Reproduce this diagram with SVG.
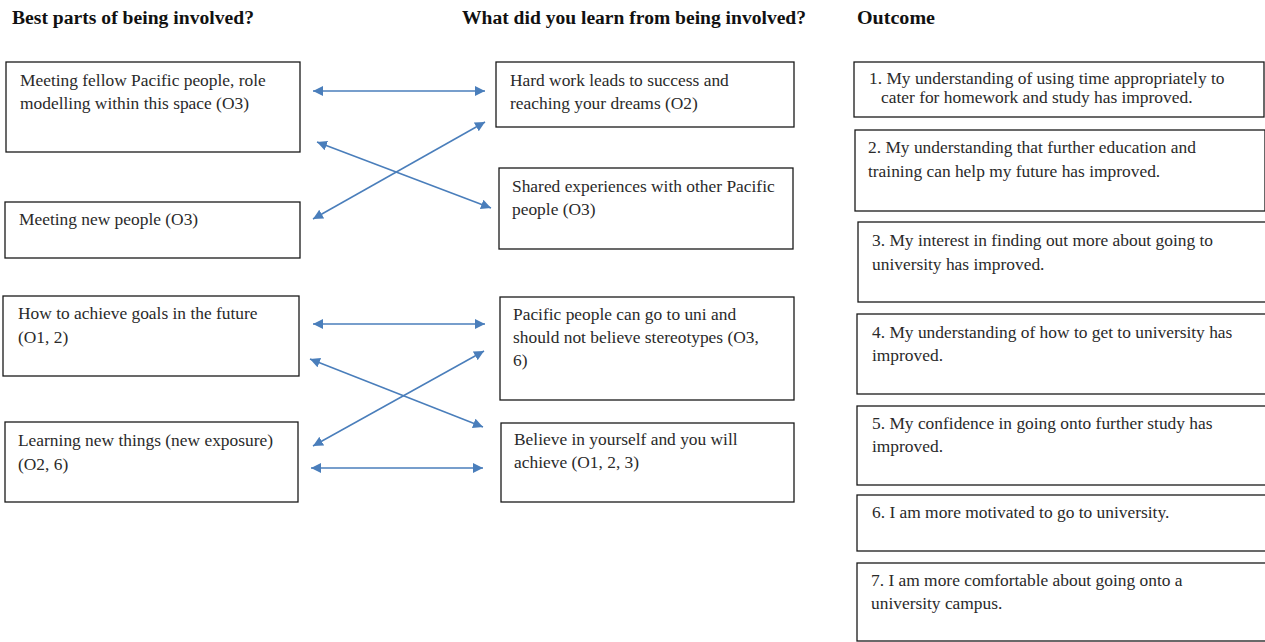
<svg xmlns="http://www.w3.org/2000/svg" width="1265" height="642" viewBox="0 0 1265 642">
<defs>
<marker id="ah" viewBox="0 0 10 10" refX="10" refY="5" markerWidth="10" markerHeight="10" markerUnits="userSpaceOnUse" orient="auto-start-reverse">
<path d="M0,0 L10,5 L0,10 z" fill="#4A7EBB"/>
</marker>
<style>
.box{fill:#fff;stroke:#1a1a1a;stroke-width:1.3}
.t{font-family:"Liberation Serif","Times New Roman",serif;font-size:17.4px;fill:#2a2a2a}
.h{font-family:"Liberation Serif","Times New Roman",serif;font-size:18px;font-weight:bold;fill:#111}
.c{stroke:#4A7EBB;stroke-width:1.5;fill:none;marker-start:url(#ah);marker-end:url(#ah)}
</style>
</defs>
<rect width="1265" height="642" fill="#fff"/>
<g id="headings">
<text class="h" x="12" y="24" textLength="242" lengthAdjust="spacingAndGlyphs">Best parts of being involved?</text>
<text class="h" x="462" y="24" textLength="344" lengthAdjust="spacingAndGlyphs">What did you learn from being involved?</text>
<text class="h" x="857" y="24" textLength="78" lengthAdjust="spacingAndGlyphs">Outcome</text>
</g>
<g id="connectors">
<line class="c" x1="313" y1="91" x2="485" y2="91"/>
<line class="c" x1="317" y1="142" x2="491" y2="208"/>
<line class="c" x1="313" y1="219" x2="485" y2="122"/>
<line class="c" x1="313" y1="324" x2="485" y2="324"/>
<line class="c" x1="310" y1="359" x2="483" y2="427"/>
<line class="c" x1="313" y1="446" x2="484" y2="351"/>
<line class="c" x1="311" y1="468" x2="483" y2="468"/>
</g>
<g id="nodeA"><rect class="box" x="6" y="62" width="294" height="90"/>
<text class="t" x="20" y="86">Meeting fellow Pacific people, role</text>
<text class="t" x="20" y="109">modelling within this space (O3)</text></g>
<g id="nodeB"><rect class="box" x="5" y="202" width="295" height="56"/>
<text class="t" x="19" y="225">Meeting new people (O3)</text></g>
<g id="nodeC"><rect class="box" x="3" y="296" width="296" height="80"/>
<text class="t" x="18" y="319">How to achieve goals in the future</text>
<text class="t" x="18" y="343">(O1, 2)</text></g>
<g id="nodeD"><rect class="box" x="5" y="422" width="293" height="80"/>
<text class="t" x="18" y="446">Learning new things (new exposure)</text>
<text class="t" x="18" y="470">(O2, 6)</text></g>
<g id="nodeE"><rect class="box" x="496" y="62" width="298" height="65"/>
<text class="t" x="510" y="86">Hard work leads to success and</text>
<text class="t" x="510" y="109">reaching your dreams (O2)</text></g>
<g id="nodeF"><rect class="box" x="499" y="168" width="294" height="81"/>
<text class="t" x="512" y="192">Shared experiences with other Pacific</text>
<text class="t" x="512" y="215">people (O3)</text></g>
<g id="nodeG"><rect class="box" x="500" y="297" width="294" height="103"/>
<text class="t" x="513" y="320">Pacific people can go to uni and</text>
<text class="t" x="513" y="343">should not believe stereotypes (O3,</text>
<text class="t" x="513" y="366">6)</text></g>
<g id="nodeH"><rect class="box" x="501" y="423" width="293" height="79"/>
<text class="t" x="514" y="445">Believe in yourself and you will</text>
<text class="t" x="514" y="468">achieve (O1, 2, 3)</text></g>
<g id="out1"><rect class="box" x="854" y="62" width="410" height="55"/>
<text class="t" x="869" y="84">1. My understanding of using time appropriately to</text>
<text class="t" x="881" y="103">cater for homework and study has improved.</text></g>
<g id="out2"><rect class="box" x="855" y="130" width="410" height="81"/>
<text class="t" x="868" y="153">2. My understanding that further education and</text>
<text class="t" x="868" y="177">training can help my future has improved.</text></g>
<g id="out3"><rect class="box" x="858" y="222" width="410" height="80"/>
<text class="t" x="872" y="246">3. My interest in finding out more about going to</text>
<text class="t" x="872" y="270">university has improved.</text></g>
<g id="out4"><rect class="box" x="857" y="314" width="410" height="80"/>
<text class="t" x="872" y="338">4. My understanding of how to get to university has</text>
<text class="t" x="872" y="361">improved.</text></g>
<g id="out5"><rect class="box" x="857" y="406" width="410" height="79"/>
<text class="t" x="872" y="429">5. My confidence in going onto further study has</text>
<text class="t" x="872" y="452">improved.</text></g>
<g id="out6"><rect class="box" x="857" y="495" width="410" height="56"/>
<text class="t" x="872" y="518">6. I am more motivated to go to university.</text></g>
<g id="out7"><rect class="box" x="857" y="563" width="410" height="78"/>
<text class="t" x="871" y="586">7. I am more comfortable about going onto a</text>
<text class="t" x="871" y="609">university campus.</text></g>
</svg>
